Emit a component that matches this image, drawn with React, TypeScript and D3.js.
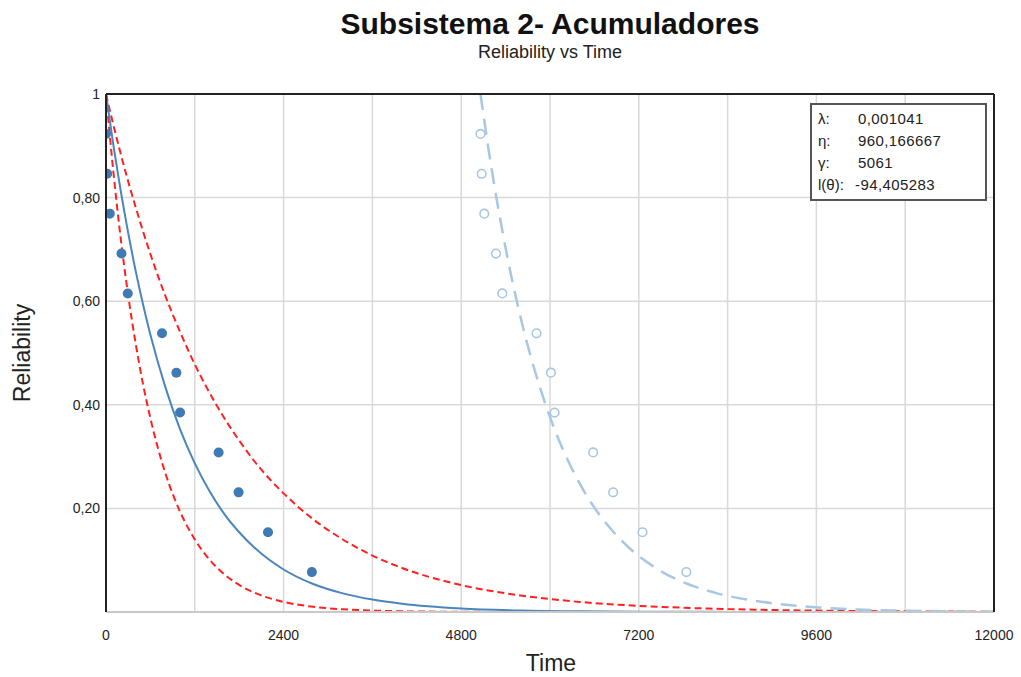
import * as d3 from "d3";

// failure times (raw) and median-rank reliability
const failTimes = [5061, 5077, 5112, 5270, 5355, 5818, 6012, 6062, 6583, 6853, 7250, 7843];
const failRel = [0.923, 0.846, 0.769, 0.692, 0.615, 0.538, 0.462, 0.385, 0.308, 0.231, 0.154, 0.077];
const gamma = 5061;

// curves read along a time grid (time shifted by gamma)
const gridTimes = [0, 100, 200, 300, 400, 500, 600, 800, 1000, 1200, 1400, 1600, 1800, 2000, 2400, 2800, 3200, 3600, 4000, 4800, 5600, 6400, 7200, 8400, 9600, 10800, 12000];
const fitRel = [1, 0.901, 0.812, 0.732, 0.659, 0.594, 0.535, 0.435, 0.353, 0.287, 0.233, 0.189, 0.154, 0.125, 0.082, 0.054, 0.036, 0.024, 0.016, 0.0068, 0.0029, 0.0013, 0.0006, 0.0002, 0, 0, 0];
const upperRel = [1, 0.94, 0.884, 0.831, 0.782, 0.735, 0.691, 0.611, 0.541, 0.478, 0.423, 0.374, 0.331, 0.292, 0.229, 0.179, 0.14, 0.109, 0.085, 0.052, 0.032, 0.0195, 0.0119, 0.0057, 0.0027, 0.0013, 0.0006];
const lowerRel = [1, 0.849, 0.72, 0.611, 0.519, 0.44, 0.374, 0.269, 0.194, 0.14, 0.101, 0.0725, 0.0522, 0.0376, 0.0195, 0.0101, 0.0053, 0.0027, 0.0014, 0.0004, 0.0001, 0, 0, 0, 0, 0, 0];

const xTicks = [0, 2400, 4800, 7200, 9600, 12000];
const xGrid = [1200, 2400, 3600, 4800, 6000, 7200, 8400, 9600, 10800];
const yTicks = [0.2, 0.4, 0.6, 0.8, 1];
const yTickLabels = ["0,20", "0,40", "0,60", "0,80", "1"];

const legendKeys = ["λ:", "η:", "γ:", "l(θ):"];
const legendValues = ["0,001041", "960,166667", "5061", "-94,405283"];

const W = 1021;
const H = 677;
const m = { left: 106, right: 27, top: 94, bottom: 65 };
const font = "'Liberation Sans', Arial, sans-serif";

export default function App() {
  const x = d3.scaleLinear().domain([0, 12000]).range([m.left, W - m.right]);
  const y = d3.scaleLinear().domain([0, 1]).range([H - m.bottom, m.top]);

  const line = d3
    .line<[number, number]>()
    .x((d) => x(d[0]))
    .y((d) => y(d[1]))
    .curve(d3.curveMonotoneX);

  const pts = (ts: number[], rs: number[], off = 0) =>
    ts.map((t, i) => [t + off, rs[i]] as [number, number]);

  const x0 = m.left;
  const x1 = W - m.right;
  const y0 = H - m.bottom;
  const y1 = m.top;

  return (
    <svg width={W} height={H} style={{ position: "absolute", left: 0, top: 0 }} fontFamily={font}>
      <defs>
        <clipPath id="plot">
          <rect x={x0} y={y1} width={x1 - x0} height={y0 - y1} />
        </clipPath>
      </defs>
      <rect width={W} height={H} fill="#fff" />

      <text x={550} y={34} textAnchor="middle" fontSize={30} fontWeight="bold" fill="#111">
        Subsistema 2- Acumuladores
      </text>
      <text x={550} y={58} textAnchor="middle" fontSize={18} fill="#222">
        Reliability vs Time
      </text>

      {/* grid */}
      {xGrid.map((t) => (
        <line key={"gx" + t} x1={x(t)} x2={x(t)} y1={y1} y2={y0} stroke="#d9d9d9" strokeWidth={1.5} />
      ))}
      {yTicks.slice(0, 4).map((v) => (
        <line key={"gy" + v} x1={x0} x2={x1} y1={y(v)} y2={y(v)} stroke="#d9d9d9" strokeWidth={1.5} />
      ))}

      <g clipPath="url(#plot)">
        <path d={line(pts(gridTimes, upperRel)) ?? ""} fill="none" stroke="#ff2020" strokeWidth={2} strokeDasharray="7,4" />
        <path d={line(pts(gridTimes, lowerRel)) ?? ""} fill="none" stroke="#ff2020" strokeWidth={2} strokeDasharray="7,4" />
        <path d={line(pts(gridTimes, fitRel)) ?? ""} fill="none" stroke="#4a85bd" strokeWidth={2} />
        <path d={line(pts(gridTimes, fitRel, gamma)) ?? ""} fill="none" stroke="#a8c7e2" strokeWidth={2.5} strokeDasharray="16,9" />
        {failTimes.map((t, i) => (
          <circle key={"d" + i} cx={x(t - gamma)} cy={y(failRel[i])} r={5} fill="#3f7ab4" />
        ))}
        {failTimes.map((t, i) => (
          <circle key={"l" + i} cx={x(t)} cy={y(failRel[i])} r={4.3} fill="#fff" stroke="#a8c7e2" strokeWidth={1.6} />
        ))}
      </g>

      {/* frame */}
      <line x1={x0} x2={x1} y1={y0} y2={y0} stroke="#c8c8c8" strokeWidth={2} />
      <line x1={x0} x2={x1} y1={y1} y2={y1} stroke="#222" strokeWidth={2} />
      <line x1={x0} x2={x0} y1={y1} y2={y0} stroke="#222" strokeWidth={2} />
      <line x1={x1} x2={x1} y1={y1} y2={y0} stroke="#222" strokeWidth={2} />

      {/* tick labels */}
      {xTicks.map((t) => (
        <text key={"xt" + t} x={x(t)} y={640} textAnchor="middle" fontSize={14} fill="#222">
          {t}
        </text>
      ))}
      {yTicks.map((v, i) => (
        <text key={"yt" + v} x={100} y={y(v) + 5} textAnchor="end" fontSize={14} fill="#222">
          {yTickLabels[i]}
        </text>
      ))}

      <text x={551} y={671} textAnchor="middle" fontSize={23} fill="#222">
        Time
      </text>
      <text transform={`translate(30,${(y0 + y1) / 2}) rotate(-90)`} textAnchor="middle" fontSize={23} fill="#222">
        Reliability
      </text>

      {/* parameters box */}
      <rect x={811} y={104} width={175} height={96} fill="#fff" stroke="#555" strokeWidth={2} />
      {legendKeys.map((k, i) => (
        <g key={"lg" + i}>
          <text x={818} y={124 + i * 22} fontSize={15} fill="#222">
            {k}
          </text>
          <text x={i === 3 ? 855 : 858} y={124 + i * 22} fontSize={15} letterSpacing={0.4} fill="#222">
            {legendValues[i]}
          </text>
        </g>
      ))}
    </svg>
  );
}
